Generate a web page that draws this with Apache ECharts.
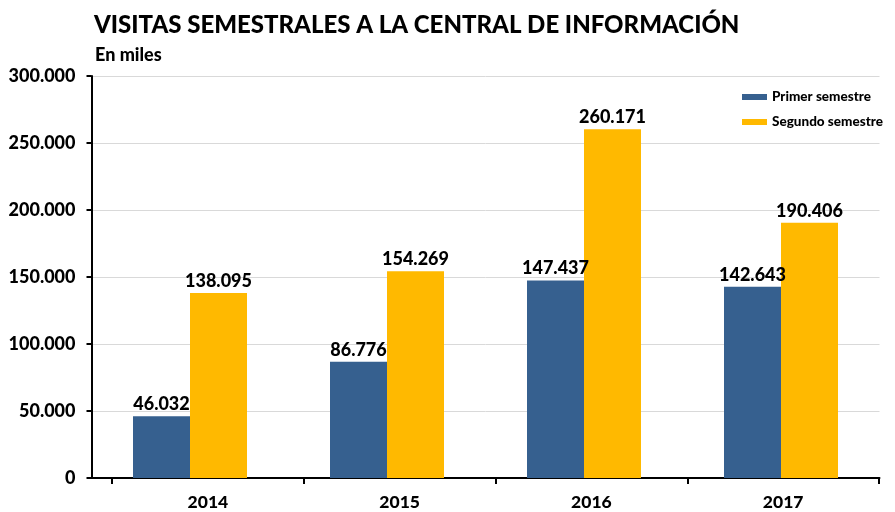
<!DOCTYPE html>
<html>
<head>
<meta charset="utf-8">
<script src="https://cdn.jsdelivr.net/npm/echarts@6/dist/echarts.min.js"></script>
<style>
html, body { margin: 0; padding: 0; background: #fff; }
#main { width: 895px; height: 512px; }
</style>
</head>
<body>
<div id="main"></div>
<script>
// datos en miles
var years = ['2014', '2015', '2016', '2017'];
var primerSemestre = [46032, 86776, 147437, 142643];
var segundoSemestre = [138095, 154269, 260171, 190406];
var seriesNames = ['Primer semestre', 'Segundo semestre'];

function fmtMiles(v) {
    return String(Math.round(v)).replace(/\B(?=(\d{3})+(?!\d))/g, '.');
}

var chart = echarts.init(document.getElementById('main'));
var font = 'Lato, "Open Sans", sans-serif';
var boldText = { fontWeight: 900, color: '#000', fontFamily: font };

chart.setOption({
    animation: false,
    textStyle: { fontFamily: font },
    title: [
        {
            text: 'VISITAS SEMESTRALES A LA CENTRAL DE INFORMACIÓN',
            left: 89, top: 8,
            textStyle: Object.assign({ fontSize: 24 }, boldText)
        },
        {
            text: 'En miles',
            left: 90, top: 41,
            textStyle: Object.assign({ fontSize: 18 }, boldText)
        }
    ],
    legend: {
        orient: 'vertical',
        left: 737, top: 85,
        itemWidth: 25, itemHeight: 6,
        itemGap: 11,
        icon: 'rect',
        textStyle: Object.assign({ fontSize: 13.5 }, boldText),
        data: seriesNames
    },
    grid: [
        { left: 91.5, right: 15.5, top: 76, bottom: 34 },
        // solo para las marcas y etiquetas del eje de categorías
        { left: 112, right: 16, top: 76, bottom: 34 }
    ],
    xAxis: [
        {
            type: 'category',
            gridIndex: 0,
            data: years,
            axisLine: { lineStyle: { color: '#000', width: 2 } },
            axisTick: { show: false },
            axisLabel: { show: false }
        },
        {
            type: 'category',
            gridIndex: 1,
            data: years,
            axisLine: { show: false },
            axisTick: { show: true, length: 6, lineStyle: { color: '#000', width: 2 } },
            axisLabel: Object.assign({ fontSize: 17.5, margin: 15 }, boldText)
        }
    ],
    yAxis: [
        {
            type: 'value',
            gridIndex: 0,
            min: 0, max: 300000, interval: 50000,
            axisLine: { show: true, lineStyle: { color: '#000', width: 2 } },
            axisTick: { show: true, length: 5, lineStyle: { color: '#000', width: 2 } },
            splitLine: { lineStyle: { color: '#d9d9d9', width: 1 } },
            axisLabel: Object.assign({
                fontSize: 18, margin: 16,
                formatter: function (v) { return fmtMiles(v); }
            }, boldText)
        },
        {
            type: 'value',
            gridIndex: 1,
            min: 0, max: 300000,
            show: false
        }
    ],
    series: [
        {
            name: seriesNames[0],
            type: 'bar',
            xAxisIndex: 0, yAxisIndex: 0,
            barWidth: 57,
            barGap: '0%',
            itemStyle: { color: '#36608f' },
            label: Object.assign({
                show: true, position: 'top', distance: 3, fontSize: 18,
                formatter: function (p) { return fmtMiles(p.value); }
            }, boldText),
            data: primerSemestre
        },
        {
            name: seriesNames[1],
            type: 'bar',
            xAxisIndex: 0, yAxisIndex: 0,
            barWidth: 57,
            barGap: '0%',
            itemStyle: { color: '#ffb900' },
            label: Object.assign({
                show: true, position: 'top', distance: 3, fontSize: 18,
                formatter: function (p) { return fmtMiles(p.value); }
            }, boldText),
            data: segundoSemestre
        }
    ]
});
</script>
</body>
</html>
